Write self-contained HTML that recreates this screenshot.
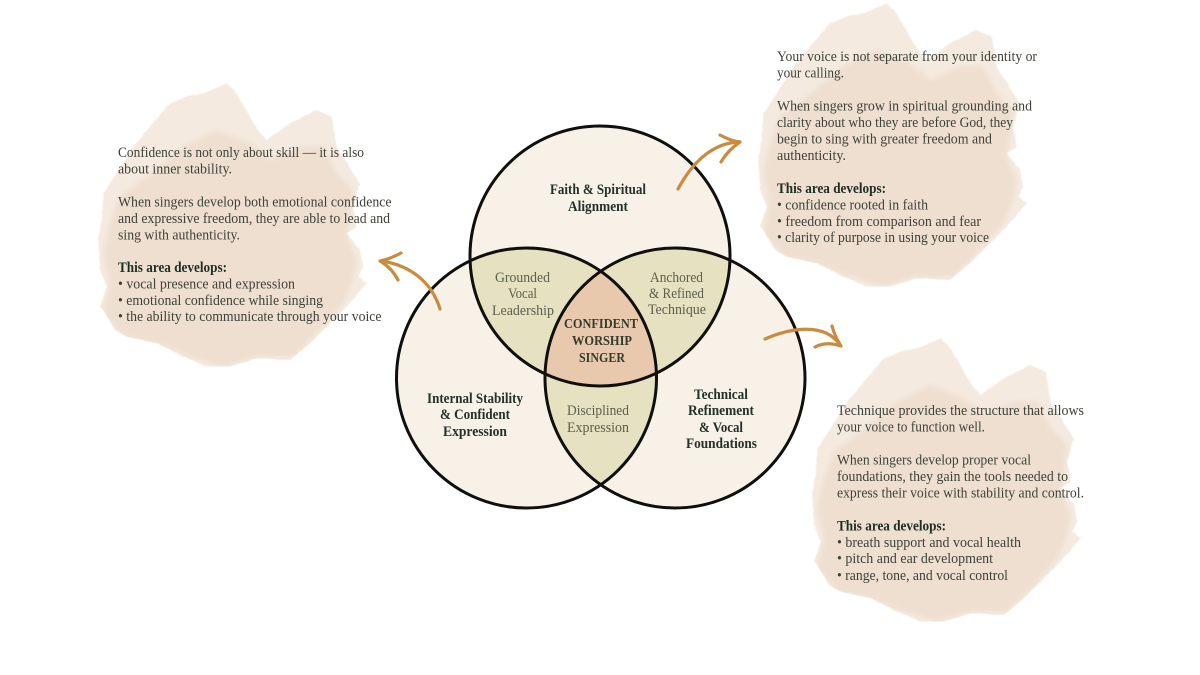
<!DOCTYPE html>
<html lang="en">
<head>
<meta charset="utf-8">
<title>Confident Worship Singer</title>
<style>
html,body{margin:0;padding:0;background:#fff;}
body{width:1200px;height:675px;overflow:hidden;}
svg{display:block;}
text{font-family:"Liberation Serif",serif;}
.p{font-size:14.5px;fill:#3c4239;}
.b{font-size:14.5px;font-weight:bold;fill:#1f2e23;}
.lb{font-size:14.5px;font-weight:bold;fill:#24332a;text-anchor:middle;}
.lt{font-size:14.5px;fill:#5b604e;text-anchor:middle;}
.lc{font-size:14px;font-weight:bold;fill:#363b2c;text-anchor:middle;}
.a{fill:none;stroke:#c88b3f;stroke-width:3.2;stroke-linecap:round;stroke-linejoin:round;}
</style>
</head>
<body>
<svg width="1200" height="675" viewBox="0 0 1200 675" xmlns="http://www.w3.org/2000/svg">
<defs>
<filter id="rough" x="-10%" y="-10%" width="120%" height="120%">
<feTurbulence type="fractalNoise" baseFrequency="0.05 0.09" numOctaves="3" seed="4" result="n"/>
<feDisplacementMap in="SourceGraphic" in2="n" scale="6" xChannelSelector="R" yChannelSelector="G"/>
<feGaussianBlur stdDeviation="1.3"/>
</filter>
<filter id="soft" x="-15%" y="-15%" width="130%" height="130%">
<feGaussianBlur stdDeviation="7"/>
</filter>
<filter id="t" x="-5%" y="-5%" width="110%" height="110%">
<feGaussianBlur stdDeviation="0.3"/>
</filter>
<clipPath id="blobClip">
<path transform="translate(90 80) scale(.3333)" d="M410 10L440 40L480 110L500 145L530 180L600 130L680 90L725 110L740 200L790 280L810 310L790 380L800 440L770 460L810 510L820 560L805 590L830 610L770 680L720 730L660 790L600 840L500 835L420 860L350 860L280 830L200 790L110 770L75 750L40 690L30 680L50 620L30 570L25 480L35 420L40 340L80 280L130 200L180 140L240 70L290 50L340 40Z"/>
</clipPath>
<g id="blob">
<path filter="url(#rough)" transform="translate(90 80) scale(.3333)" fill="#f4eadf" d="M410 10L440 40L480 110L500 145L530 180L600 130L680 90L725 110L740 200L790 280L810 310L790 380L800 440L770 460L810 510L820 560L805 590L830 610L770 680L720 730L660 790L600 840L500 835L420 860L350 860L280 830L200 790L110 770L75 750L40 690L30 680L50 620L30 570L25 480L35 420L40 340L80 280L130 200L180 140L240 70L290 50L340 40Z"/>
<g clip-path="url(#blobClip)">
<path filter="url(#soft)" transform="translate(90 80) scale(.3333)" fill="#efdfd0" d="M380 150L480 190L540 240L630 200L700 200L740 280L790 330L780 400L770 470L800 540L790 600L760 670L690 750L610 830L500 830L400 860L300 830L200 790L100 770L40 700L60 610L40 520L60 430L90 350L170 290L280 200Z"/>
</g>
</g>
</defs>

<use href="#blob"/>
<use href="#blob" transform="translate(660 -80)"/>
<use href="#blob" transform="translate(714 255)"/>

<!-- Venn base -->
<circle cx="600" cy="256" r="130" fill="#f7f1e7"/>
<circle cx="526.5" cy="378" r="130" fill="#f7f1e7"/>
<circle cx="675" cy="378" r="130" fill="#f7f1e7"/>

<clipPath id="cT"><circle cx="600" cy="256" r="130"/></clipPath>
<clipPath id="cL"><circle cx="526.5" cy="378" r="130"/></clipPath>
<clipPath id="cR"><circle cx="675" cy="378" r="130"/></clipPath>

<g clip-path="url(#cT)"><circle cx="526.5" cy="378" r="130" fill="#e6e1c0"/><circle cx="675" cy="378" r="130" fill="#e6e1c0"/></g>
<g clip-path="url(#cL)"><circle cx="675" cy="378" r="130" fill="#e6e1c0"/></g>
<g clip-path="url(#cT)"><g clip-path="url(#cL)"><circle cx="675" cy="378" r="130" fill="#e8c9ae"/></g></g>

<g fill="none" stroke="#0f0f0d" stroke-width="3">
<circle cx="600" cy="256" r="130"/>
<circle cx="526.5" cy="378" r="130"/>
<circle cx="675" cy="378" r="130"/>
</g>

<!-- Arrows -->
<path class="a" d="M678 189C692 163 712 143 739 142"/>
<path class="a" d="M720 135Q731 141 740 142Q728 150 721 162"/>
<path class="a" d="M440 309C432 283 412 266 382 261"/>
<path class="a" d="M401 253Q390 259 380 261Q392 268 398 280"/>
<path class="a" d="M765 339C790 328 825 322 840 345"/>
<path class="a" d="M832 326Q835 337 841 346Q826 341 815 347"/>

<g filter="url(#t)">
<!-- Venn labels -->
<text class="lb" x="598" y="194" textLength="96" lengthAdjust="spacingAndGlyphs">Faith &amp; Spiritual</text>
<text class="lb" x="598" y="211" textLength="60" lengthAdjust="spacingAndGlyphs">Alignment</text>

<text class="lt" x="522.5" y="282" textLength="55" lengthAdjust="spacingAndGlyphs">Grounded</text>
<text class="lt" x="522.5" y="298" textLength="29" lengthAdjust="spacingAndGlyphs">Vocal</text>
<text class="lt" x="523" y="315" textLength="62" lengthAdjust="spacingAndGlyphs">Leadership</text>

<text class="lt" x="676.5" y="282" textLength="53" lengthAdjust="spacingAndGlyphs">Anchored</text>
<text class="lt" x="676.5" y="298" textLength="55" lengthAdjust="spacingAndGlyphs">&amp; Refined</text>
<text class="lt" x="677" y="314" textLength="58" lengthAdjust="spacingAndGlyphs">Technique</text>

<text class="lc" x="601" y="328" textLength="74" lengthAdjust="spacingAndGlyphs">CONFIDENT</text>
<text class="lc" x="602" y="345" textLength="60" lengthAdjust="spacingAndGlyphs">WORSHIP</text>
<text class="lc" x="602" y="362" textLength="46" lengthAdjust="spacingAndGlyphs">SINGER</text>

<text class="lb" x="475" y="403" textLength="96" lengthAdjust="spacingAndGlyphs">Internal Stability</text>
<text class="lb" x="475" y="419" textLength="70" lengthAdjust="spacingAndGlyphs">&amp; Confident</text>
<text class="lb" x="475" y="436" textLength="64" lengthAdjust="spacingAndGlyphs">Expression</text>

<text class="lb" x="721" y="399" textLength="54" lengthAdjust="spacingAndGlyphs">Technical</text>
<text class="lb" x="721" y="415" textLength="66" lengthAdjust="spacingAndGlyphs">Refinement</text>
<text class="lb" x="721" y="432" textLength="44" lengthAdjust="spacingAndGlyphs">&amp; Vocal</text>
<text class="lb" x="721.5" y="448" textLength="71" lengthAdjust="spacingAndGlyphs">Foundations</text>

<text class="lt" x="598" y="415" textLength="62" lengthAdjust="spacingAndGlyphs">Disciplined</text>
<text class="lt" x="598" y="432" textLength="62" lengthAdjust="spacingAndGlyphs">Expression</text>

<!-- Left text -->
<text class="p" x="118" y="157" textLength="246" lengthAdjust="spacingAndGlyphs">Confidence is not only about skill — it is also</text>
<text class="p" x="118" y="173.5" textLength="114" lengthAdjust="spacingAndGlyphs">about inner stability.</text>
<text class="p" x="118" y="206.5" textLength="273.5" lengthAdjust="spacingAndGlyphs">When singers develop both emotional confidence</text>
<text class="p" x="118" y="223" textLength="272" lengthAdjust="spacingAndGlyphs">and expressive freedom, they are able to lead and</text>
<text class="p" x="118" y="239.5" textLength="122" lengthAdjust="spacingAndGlyphs">sing with authenticity.</text>
<text class="b" x="118" y="272" textLength="109" lengthAdjust="spacingAndGlyphs">This area develops:</text>
<text class="p" x="118" y="288.5" textLength="177" lengthAdjust="spacingAndGlyphs">• vocal presence and expression</text>
<text class="p" x="118" y="305" textLength="205" lengthAdjust="spacingAndGlyphs">• emotional confidence while singing</text>
<text class="p" x="118" y="321" textLength="263.5" lengthAdjust="spacingAndGlyphs">• the ability to communicate through your voice</text>

<!-- Top right text -->
<text class="p" x="777" y="61" textLength="260" lengthAdjust="spacingAndGlyphs">Your voice is not separate from your identity or</text>
<text class="p" x="777" y="77.5" textLength="67" lengthAdjust="spacingAndGlyphs">your calling.</text>
<text class="p" x="777" y="110.5" textLength="255" lengthAdjust="spacingAndGlyphs">When singers grow in spiritual grounding and</text>
<text class="p" x="777" y="127" textLength="236" lengthAdjust="spacingAndGlyphs">clarity about who they are before God, they</text>
<text class="p" x="777" y="143.5" textLength="215" lengthAdjust="spacingAndGlyphs">begin to sing with greater freedom and</text>
<text class="p" x="777" y="160" textLength="69" lengthAdjust="spacingAndGlyphs">authenticity.</text>
<text class="b" x="777" y="193" textLength="109" lengthAdjust="spacingAndGlyphs">This area develops:</text>
<text class="p" x="777" y="209.5" textLength="151" lengthAdjust="spacingAndGlyphs">• confidence rooted in faith</text>
<text class="p" x="777" y="226" textLength="204" lengthAdjust="spacingAndGlyphs">• freedom from comparison and fear</text>
<text class="p" x="777" y="242" textLength="212" lengthAdjust="spacingAndGlyphs">• clarity of purpose in using your voice</text>

<!-- Bottom right text -->
<text class="p" x="837" y="415" textLength="247" lengthAdjust="spacingAndGlyphs">Technique provides the structure that allows</text>
<text class="p" x="837" y="431.5" textLength="148" lengthAdjust="spacingAndGlyphs">your voice to function well.</text>
<text class="p" x="837" y="464.5" textLength="194" lengthAdjust="spacingAndGlyphs">When singers develop proper vocal</text>
<text class="p" x="837" y="481" textLength="231" lengthAdjust="spacingAndGlyphs">foundations, they gain the tools needed to</text>
<text class="p" x="837" y="497.5" textLength="247" lengthAdjust="spacingAndGlyphs">express their voice with stability and control.</text>
<text class="b" x="837" y="530.5" textLength="109" lengthAdjust="spacingAndGlyphs">This area develops:</text>
<text class="p" x="837" y="547" textLength="184" lengthAdjust="spacingAndGlyphs">• breath support and vocal health</text>
<text class="p" x="837" y="563" textLength="156" lengthAdjust="spacingAndGlyphs">• pitch and ear development</text>
<text class="p" x="837" y="580" textLength="171" lengthAdjust="spacingAndGlyphs">• range, tone, and vocal control</text>
</g>
</svg>
</body>
</html>
